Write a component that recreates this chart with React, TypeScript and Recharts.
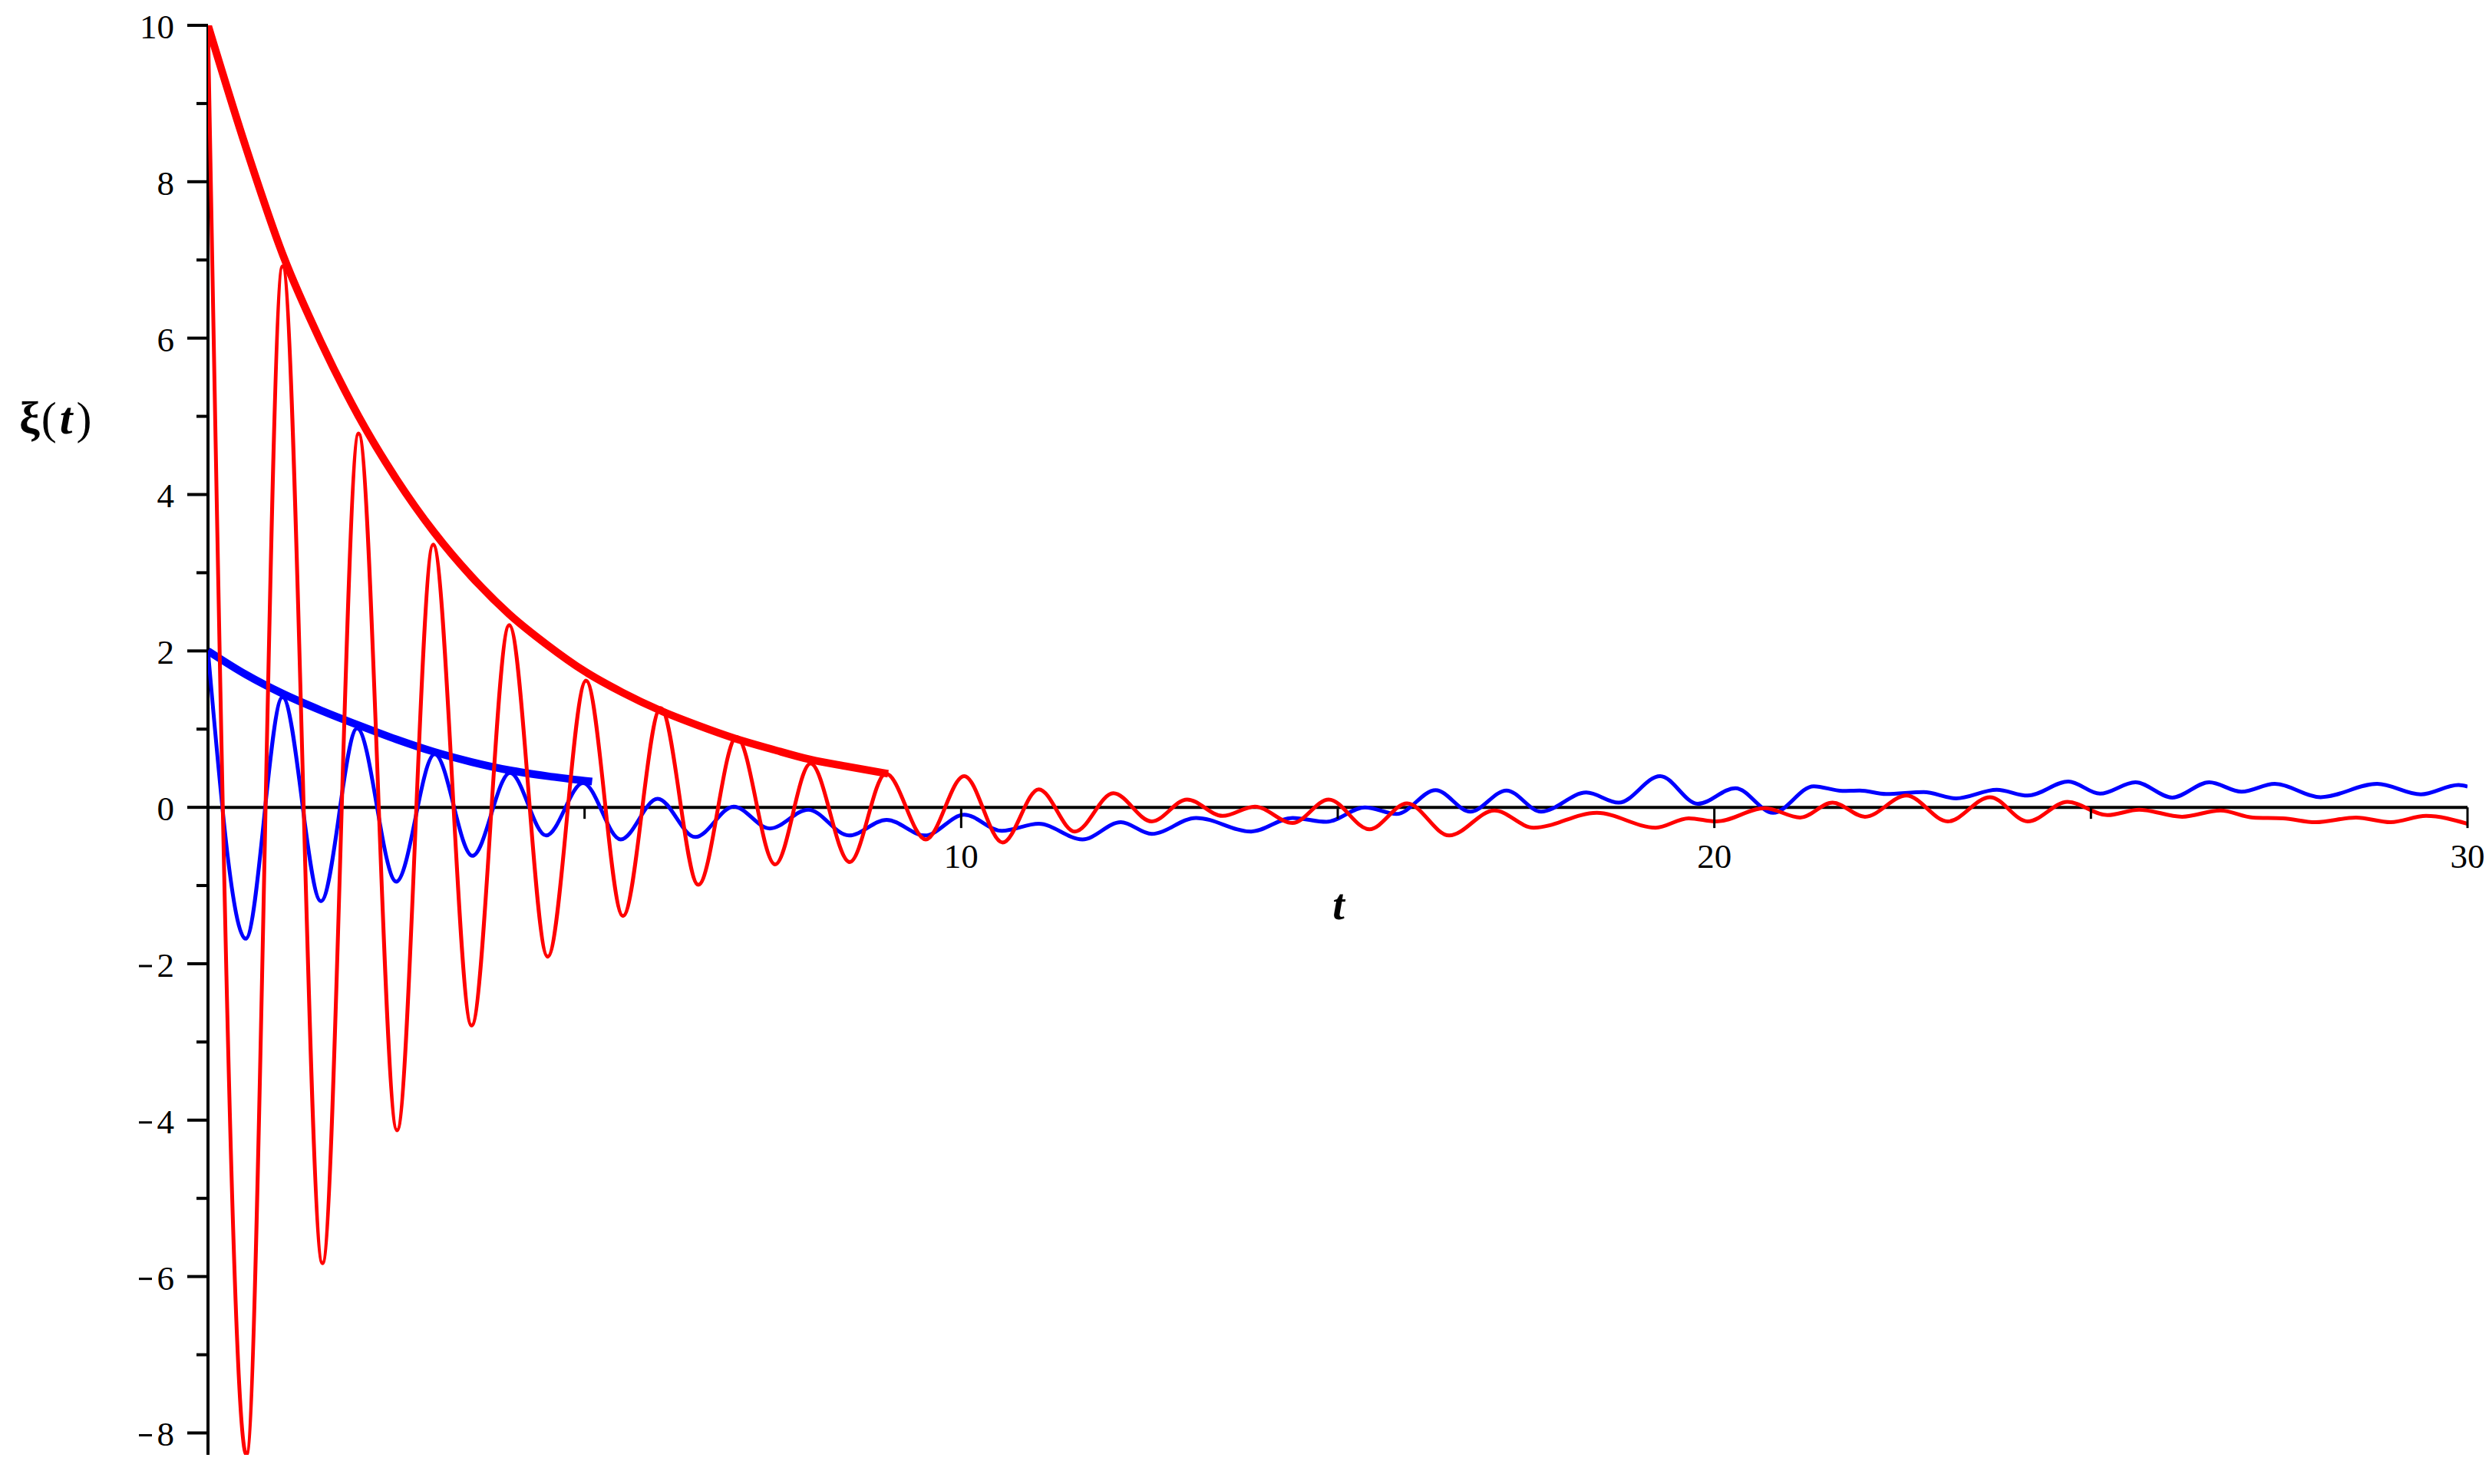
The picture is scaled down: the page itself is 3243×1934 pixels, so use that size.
import { LineChart, Line, XAxis, YAxis, ReferenceLine } from 'recharts';

// red oscillation (t, xi) – extrema
const redT = [
  0, 0.51, 0.99, 1.52, 2.0, 2.51, 2.99, 3.5, 4.0, 4.51, 5.02, 5.51, 6.01, 6.51, 7.02, 7.53, 8.0, 8.52, 9.0,
  9.53, 10.04, 10.55, 11.03, 11.51, 12.02, 12.53, 13.0, 13.47, 13.9, 14.4, 14.88, 15.42, 15.92, 16.48,
  17.08, 17.6, 18.44, 19.22, 19.66, 20.03, 20.67, 21.14, 21.57, 22.0, 22.55, 23.1, 23.66, 24.16, 24.69,
  25.22, 25.64, 26.21, 26.72, 27.15, 27.55, 27.98, 28.52, 28.98, 29.45, 30.0,
];
const redV = [
  10, -8.28, 6.92, -5.83, 4.78, -4.13, 3.36, -2.79, 2.33, -1.91, 1.62, -1.39, 1.27, -0.99, 0.9, -0.73, 0.56, -0.7, 0.43,
  -0.41, 0.4, -0.45, 0.23, -0.31, 0.18, -0.18, 0.1, -0.11, 0.01, -0.2, 0.1, -0.28, 0.05, -0.36,
  -0.04, -0.26, -0.07, -0.26, -0.14, -0.18, -0.01, -0.13, 0.06, -0.12, 0.15, -0.18, 0.13, -0.18, 0.07,
  -0.1, -0.03, -0.12, -0.04, -0.13, -0.14, -0.19, -0.13, -0.19, -0.11, -0.21,
];

// blue oscillation
const blueT = [
  0, 0.5, 0.99, 1.5, 1.98, 2.5, 3.01, 3.51, 4.01, 4.49, 4.98, 5.48, 5.97, 6.47, 6.98, 7.46, 7.97, 8.51, 9.01,
  9.52, 10.04, 10.54, 11.03, 11.61, 12.12, 12.53, 13.12, 13.85, 14.4, 14.85, 15.36, 15.78, 16.3, 16.76,
  17.24, 17.7, 18.3, 18.73, 19.28, 19.78, 20.28, 20.78, 21.32, 21.7, 21.93, 22.28, 22.78, 23.21, 23.75,
  24.16, 24.7, 25.12, 25.59, 26.08, 26.57, 27.0, 27.44, 28.05, 28.8, 29.38, 29.88, 30.0,
];
const blueV = [
  2, -1.68, 1.41, -1.2, 1.01, -0.95, 0.68, -0.62, 0.44, -0.36, 0.31, -0.41, 0.11, -0.38, 0.01, -0.27, -0.03, -0.36, -0.16,
  -0.36, -0.095, -0.3, -0.21, -0.41, -0.19, -0.34, -0.135, -0.31, -0.135, -0.185, 0.0, -0.085, 0.22, -0.055,
  0.215, -0.055, 0.19, 0.06, 0.4, 0.045, 0.245, -0.07, 0.27, 0.21, 0.215, 0.17, 0.195, 0.115, 0.225,
  0.15, 0.33, 0.175, 0.32, 0.125, 0.32, 0.2, 0.3, 0.13, 0.3, 0.165, 0.285, 0.265,
];

// envelopes
const redEnvT = [0, 0.5, 1, 1.5, 2, 2.5, 3, 3.5, 4, 4.5, 5, 5.5, 6, 6.5, 7, 7.5, 8, 8.5, 9.03];
const redEnvV = [10, 8.45, 7.05, 5.95, 5.0, 4.2, 3.52, 2.95, 2.47, 2.08, 1.74, 1.47, 1.24, 1.05, 0.88, 0.74, 0.61, 0.52, 0.43];
const blueEnvT = [0, 0.5, 1, 1.5, 2, 2.5, 3, 3.5, 4, 4.5, 5.1];
const blueEnvV = [2, 1.7, 1.45, 1.24, 1.05, 0.87, 0.71, 0.58, 0.475, 0.4, 0.33];

const xTicks = [5, 10, 15, 20, 25, 30];
const xLabels = [10, 20, 30];
const yTicks = [-8, -7, -6, -5, -4, -3, -2, -1, 0, 1, 2, 3, 4, 5, 6, 7, 8, 9, 10];

const W = 3243;
const H = 1934;
// axes take 1px each, so the plot area runs 271..3215 x 33..1896
const MARGIN = { top: 33, right: 28, bottom: 37, left: 270 };
const PLOT_LEFT = 271;
const PLOT_BOTTOM = 1896;
const T_DOMAIN: [number, number] = [0, 30];
const XI_DOMAIN: [number, number] = [-8.28, 10];
const plotH = PLOT_BOTTOM - MARGIN.top;
const zeroY = MARGIN.top + (XI_DOMAIN[1] / (XI_DOMAIN[1] - XI_DOMAIN[0])) * plotH;

const FONT = '"Liberation Serif", "Times New Roman", serif';
const toPoints = (ts: number[], vs: number[]) => ts.map((t, i) => ({ t, v: vs[i] }));

const XTick = (props: any) => {
  const { x, payload } = props;
  const major = xLabels.includes(payload.value);
  return (
    <g>
      <line x1={x} x2={x} y1={zeroY} y2={zeroY + (major ? 27 : 15)} stroke="#000" strokeWidth={3} />
      {major && (
        <text x={x} y={zeroY + 79} textAnchor="middle" fontFamily={FONT} fontSize={45} fill="#000">
          {payload.value}
        </text>
      )}
    </g>
  );
};

const YTick = (props: any) => {
  const { y, payload } = props;
  const v = payload.value as number;
  const major = v % 2 === 0;
  const left = PLOT_LEFT;
  return (
    <g>
      <line x1={left - (major ? 27 : 15)} x2={left} y1={y} y2={y} stroke="#000" strokeWidth={4} />
      {major && (
        <text x={left - 44} y={y + 17} textAnchor="end" fontFamily={FONT} fontSize={45} fill="#000">
          {Math.abs(v)}
        </text>
      )}
      {major && v < 0 && <line x1={left - 90} x2={left - 73} y1={y + 3} y2={y + 3} stroke="#000" strokeWidth={3} />}
    </g>
  );
};

const App = () => {
  const red = toPoints(redT, redV);
  const blue = toPoints(blueT, blueV);
  const redEnv = toPoints(redEnvT, redEnvV);
  const blueEnv = toPoints(blueEnvT, blueEnvV);

  return (
    <div style={{ position: 'absolute', left: 0, top: 0, width: W, height: H, background: '#fff' }}>
      <LineChart width={W} height={H} margin={MARGIN}>
        <XAxis
          type="number"
          dataKey="t"
          domain={T_DOMAIN}
          ticks={xTicks}
          interval={0}
          allowDataOverflow
          axisLine={false}
          tickLine={false}
          height={1}
          tick={(p: any) => <XTick {...p} />}
        />
        <YAxis
          type="number"
          dataKey="v"
          domain={XI_DOMAIN}
          ticks={yTicks}
          interval={0}
          allowDataOverflow
          axisLine={false}
          tickLine={false}
          width={1}
          tick={(p: any) => <YTick {...p} />}
        />
        <ReferenceLine y={0} stroke="#000" strokeWidth={4} />
        <ReferenceLine x={0} stroke="#000" strokeWidth={4} />
        <Line data={blue} dataKey="v" type="monotone" stroke="#0000ff" strokeWidth={5} dot={false} isAnimationActive={false} />
        <Line data={blueEnv} dataKey="v" type="monotone" stroke="#0000ff" strokeWidth={10} dot={false} isAnimationActive={false} />
        <Line data={redEnv} dataKey="v" type="monotone" stroke="#ff0000" strokeWidth={10} dot={false} isAnimationActive={false} />
        <Line data={red} dataKey="v" type="monotone" stroke="#ff0000" strokeWidth={5} dot={false} isAnimationActive={false} />
      </LineChart>
      <svg width={W} height={H} style={{ position: 'absolute', left: 0, top: 0, pointerEvents: 'none' }}>
        <text x={25} y={565} fontFamily={FONT} fontSize={60} fill="#000">
          <tspan fontWeight="bold">ξ</tspan>
          <tspan dx={2}>(</tspan>
          <tspan fontWeight="bold" fontStyle="italic" dx={4}>t</tspan>
          <tspan dx={5}>)</tspan>
        </text>
        <text x={1744} y={1198} textAnchor="middle" fontFamily={FONT} fontSize={56} fontWeight="bold" fontStyle="italic" fill="#000">
          t
        </text>
      </svg>
    </div>
  );
};

export default App;
